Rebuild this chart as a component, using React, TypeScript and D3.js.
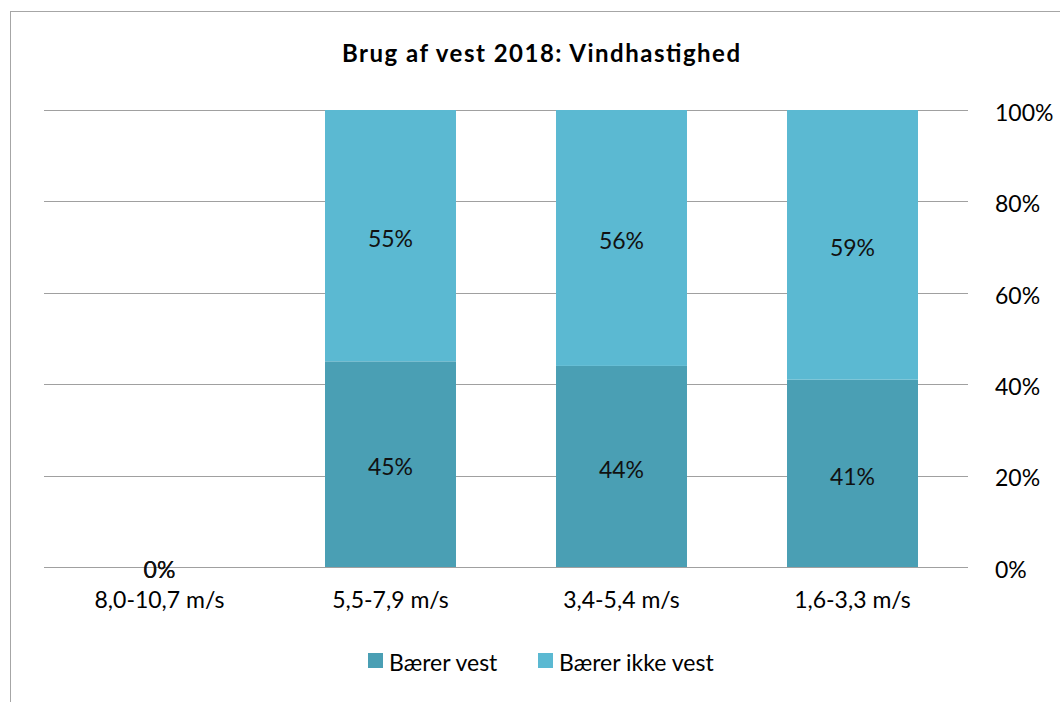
import * as d3 from "d3";
import { useEffect, useRef } from "react";

const categories = ["8,0-10,7 m/s", "5,5-7,9 m/s", "3,4-5,4 m/s", "1,6-3,3 m/s"];
const baererVest = [0, 45, 44, 41];
const baererIkkeVest = [0, 55, 56, 59];
const yTicks = [0, 20, 40, 60, 80, 100];
const seriesNames = ["Bærer vest", "Bærer ikke vest"];

const colors = ["#4a9fb4", "#5bb9d2"];
const font = "Lato, 'Open Sans', sans-serif";
const fs = 23;

const App = () => {
  const ref = useRef<SVGSVGElement | null>(null);

  useEffect(() => {
    if (!ref.current) return;
    const W = 1060,
      H = 702;
    const margin = { top: 110, right: 92, bottom: 135, left: 44 };
    const width = W - margin.left - margin.right,
      height = H - margin.top - margin.bottom;

    const svg = d3.select(ref.current);
    svg.selectAll("*").remove();

    // outer border
    svg
      .append("rect")
      .attr("x", 10.5)
      .attr("y", 11.5)
      .attr("width", W + 20)
      .attr("height", H + 20)
      .attr("fill", "white")
      .attr("stroke", "#a6a6a6");

    svg
      .append("text")
      .attr("x", 541)
      .attr("y", 62)
      .attr("text-anchor", "middle")
      .attr("font-family", "Lato, 'Open Sans', sans-serif")
      .attr("font-weight", "bold")
      .attr("font-size", 24)
      .attr("textLength", 398)
      .attr("lengthAdjust", "spacing")
      .text("Brug af vest 2018: Vindhastighed");

    const g = svg.append("g").attr("transform", `translate(${margin.left},${margin.top})`);

    const x = d3.scaleBand().domain(categories).range([0, width]).paddingInner(0.433).paddingOuter(0.2165);
    const y = d3.scaleLinear().domain([0, 100]).range([height, 0]);

    // gridlines
    g.selectAll("line.grid")
      .data(yTicks)
      .enter()
      .append("line")
      .attr("x1", 0)
      .attr("x2", width)
      .attr("y1", (d) => Math.round(y(d)) + 0.5)
      .attr("y2", (d) => Math.round(y(d)) + 0.5)
      .attr("stroke", "#a0a0a0")
      .attr("stroke-width", 1.2);

    // right axis labels
    g.selectAll("text.ytick")
      .data(yTicks)
      .enter()
      .append("text")
      .attr("x", width + 27)
      .attr("y", (d) => y(d) + 2.5)
      .attr("dy", "0.36em")
      .attr("font-family", font)
      .attr("font-size", fs)
      .text((d) => `${d}%`);

    const stacked = categories.map((c, i) => ({
      cat: c,
      segs: [
        { s: 0, y0: 0, y1: baererVest[i], v: baererVest[i] },
        { s: 1, y0: baererVest[i], y1: baererVest[i] + baererIkkeVest[i], v: baererIkkeVest[i] },
      ],
    }));

    const groups = g
      .selectAll("g.bar")
      .data(stacked)
      .enter()
      .append("g")
      .attr("transform", (d) => `translate(${x(d.cat)},0)`);

    groups
      .selectAll("rect")
      .data((d) => d.segs)
      .enter()
      .append("rect")
      .attr("x", 0)
      .attr("y", (d) => y(d.y1))
      .attr("width", x.bandwidth())
      .attr("height", (d) => y(d.y0) - y(d.y1))
      .attr("fill", (d) => colors[d.s]);

    groups
      .selectAll("text")
      .data((d) => d.segs)
      .enter()
      .append("text")
      .attr("x", x.bandwidth() / 2)
      .attr("y", (d) => (y(d.y0) + y(d.y1)) / 2 + 3)
      .attr("dy", "0.36em")
      .attr("text-anchor", "middle")
      .attr("font-family", font)
      .attr("font-size", fs)
      .attr("fill", "#111")
      .text((d) => `${d.v}%`);

    // category labels
    g.selectAll("text.cat")
      .data(categories)
      .enter()
      .append("text")
      .attr("x", (d) => (x(d) as number) + x.bandwidth() / 2)
      .attr("y", height + 41)
      .attr("text-anchor", "middle")
      .attr("font-family", font)
      .attr("font-size", fs)
      .text((d) => d);

    // legend
    const legendX = [368, 538];
    const lg = svg
      .selectAll("g.legend")
      .data(seriesNames)
      .enter()
      .append("g")
      .attr("transform", (_, i) => `translate(${legendX[i]},653)`);
    lg.append("rect").attr("width", 15).attr("height", 15).attr("fill", (_, i) => colors[i]);
    lg.append("text")
      .attr("x", 21)
      .attr("y", 9.5)
      .attr("dy", "0.36em")
      .attr("font-family", font)
      .attr("font-size", fs)
      .text((d) => d);
  }, []);

  return (
    <svg
      ref={ref}
      width={1060}
      height={702}
      style={{ position: "absolute", left: 0, top: 0, background: "white" }}
    />
  );
};

export default App;
